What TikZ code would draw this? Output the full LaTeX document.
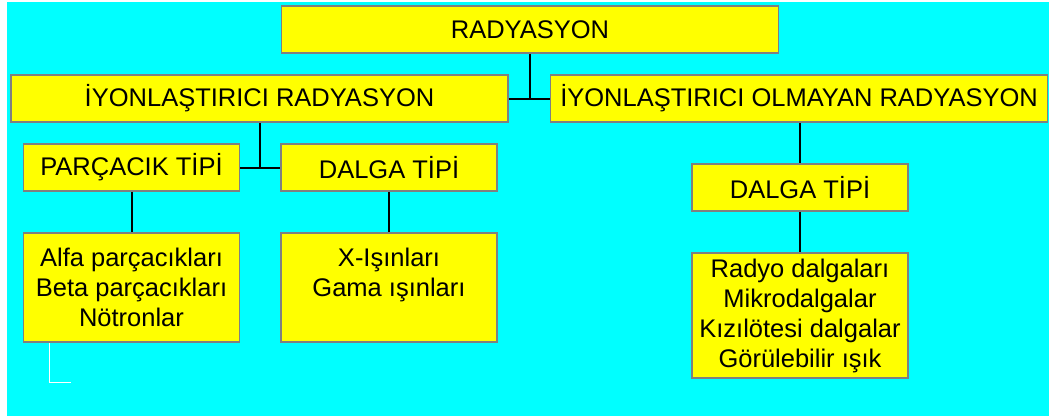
\documentclass[tikz,border=0pt]{standalone}
\usepackage{fontspec}
\setmainfont{Liberation Sans}
\definecolor{bgcyan}{RGB}{0,255,255}
\definecolor{boxyellow}{RGB}{255,255,0}
\definecolor{boxgray}{RGB}{128,128,128}

\begin{document}
\begin{tikzpicture}[x=1pt, y=-1pt,
        boxnode/.style={rectangle, draw=boxgray, fill=boxyellow, line width=1.5pt, inner sep=0pt,
                        align=center, font=\fontsize{25.5}{30}\selectfont},
        widebox/.style={boxnode, minimum width=497pt, minimum height=47pt},
        smallbox/.style={boxnode, minimum width=216pt, minimum height=47pt},
        link/.style={-, black, line width=2pt},
        ]
                \useasboundingbox (0,0) rectangle (1049,418);
                \fill[bgcyan] (7,2) rectangle (1049,416);

                \node[widebox]  at(530,29.5) (rad) {RADYASYON};
                \node[widebox]  at(259.5,98.5) (ion) {İYONLAŞTIRICI RADYASYON};
                \node[widebox]  at(799,98.5) (nonion) {İYONLAŞTIRICI OLMAYAN RADYASYON};
                \node[smallbox] at(131.5,167.5) (parc) {PARÇACIK TİPİ};
                \node[smallbox] at(389,167.5) (dalgaA) {DALGA TİPİ};
                \node[smallbox] at(800,187.5) (dalgaB) {DALGA TİPİ};
                \node[smallbox, minimum height=109pt] at(131.5,287.5) (parclist) {Alfa parçacıkları\\Beta parçacıkları\\Nötronlar};
                \node[smallbox, minimum height=109pt] at(389,287.5) (dalgaAlist) {X-Işınları\\Gama ışınları\\\mbox{}};
                \node[smallbox, minimum height=125pt] at(800,315.5) (dalgaBlist) {Radyo dalgaları\\Mikrodalgalar\\Kızılötesi dalgalar\\Görülebilir ışık};

                \coordinate (j1) at (rad.south |- ion.east);
                \coordinate (j2) at (ion.south |- parc.east);

                \draw[link] (rad)  --  (j1) ;
                \draw[link] (ion)  --  (nonion) ;
                \draw[link] (ion)  --  (j2) ;
                \draw[link] (parc)  --  (dalgaA) ;
                \draw[link] (parc)  --  (parclist) ;
                \draw[link] (dalgaA)  --  (dalgaAlist) ;
                \draw[link] (nonion.south -| dalgaB.north)  --  (dalgaB) ;
                \draw[link] (dalgaB)  --  (dalgaBlist) ;

                \coordinate (c1) at (49.5,382);
                \draw[white, line width=1pt] (parclist.south -| c1) -- (c1) -- ++(21,0) ;

            \end{tikzpicture}
\end{document}
